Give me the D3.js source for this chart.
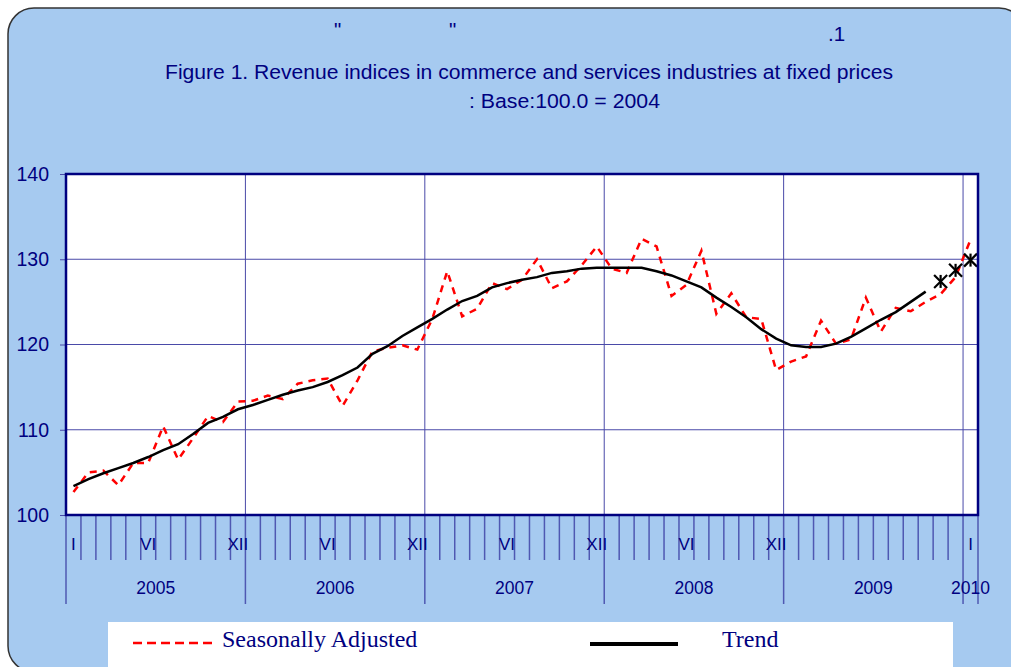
<!DOCTYPE html>
<html>
<head>
<meta charset="utf-8">
<script src="https://cdn.jsdelivr.net/npm/d3@7"></script>
<style>
  body { margin: 0; background: #fff; }
  svg { display: block; }
</style>
</head>
<body>
<div id="chart"></div>
<script>
// monthly data, Jan 2005 .. Jan 2010
const years = [2005, 2006, 2007, 2008, 2009, 2010];
// month index -> label shown under the axis
const monthTickIndex = [0, 5, 11, 17, 23, 29, 35, 41, 47, 60];
const monthTickLabels = ["I", "VI", "XII", "VI", "XII", "VI", "XII", "VI", "XII", "I"];

const seasonallyAdjusted = [
  102.7, 105.0, 105.2, 103.5, 106.1, 106.1, 110.4, 106.5, 109.0, 111.6, 110.9, 113.3,
  113.4, 114.0, 113.6, 115.4, 115.8, 116.0, 112.8, 115.8, 119.2, 119.6, 119.9, 119.4,
  123.0, 128.6, 123.3, 124.2, 127.2, 126.5, 127.6, 130.0, 126.6, 127.4, 129.3, 131.5,
  128.9, 128.4, 132.4, 131.5, 125.7, 127.0, 131.0, 123.6, 126.0, 123.2, 123.0, 117.0,
  118.0, 118.6, 122.8, 120.1, 120.6, 125.5, 121.5, 124.3, 123.9, 125.0, 125.9, 127.9,
  132.3
];

const trend = [
  103.4, 104.2, 104.9, 105.5, 106.1, 106.8, 107.6, 108.3, 109.5, 110.8, 111.5, 112.4,
  112.9, 113.5, 114.1, 114.6, 115.0, 115.6, 116.4, 117.3, 118.9, 119.8, 121.0, 122.0,
  123.0, 124.1, 125.1, 125.7, 126.7, 127.2, 127.6, 127.9, 128.4, 128.6, 128.9, 129.0,
  129.0, 129.0, 129.0, 128.6, 128.1, 127.4, 126.7, 125.5, 124.4, 123.2, 121.8, 120.7,
  119.9, 119.7, 119.7, 120.1, 120.9, 121.9, 122.9, 123.8, 125.0, 126.2
];

// last three trend points drawn as star markers (Nov 2009 .. Jan 2010)
const trendEstimate = [127.4, 128.7, 129.9];

const yTicks = [100, 110, 120, 130, 140];

const W = 1011, H = 667;
const margin = { top: 174, right: 33, bottom: 152, left: 66 };
const width = W - margin.left - margin.right,
      height = H - margin.top - margin.bottom;

const sans = "'Liberation Sans', Arial, sans-serif";
const serif = "'Liberation Serif', 'Times New Roman', serif";
const navy = "#000080";

const svg = d3.select("#chart").append("svg")
  .attr("width", W)
  .attr("height", H)
  .style("font-family", sans);

// background panel
svg.append("rect")
  .attr("x", 8).attr("y", 8)
  .attr("width", 1017).attr("height", 664)
  .attr("rx", 26)
  .attr("fill", "#a6caf0")
  .attr("stroke", "#333")
  .attr("stroke-width", 1.5);

// titles
const title = svg.append("g").attr("fill", navy).attr("font-size", 20.5);
title.append("text").attr("x", 334).attr("y", 37).text('"');
title.append("text").attr("x", 449).attr("y", 37).text('"');
title.append("text").attr("x", 828).attr("y", 41).text(".1");

title.append("text")
  .attr("x", 165).attr("y", 79)
  .attr("textLength", 728)
  .attr("lengthAdjust", "spacingAndGlyphs")
  .text("Figure 1. Revenue indices in commerce and services industries at fixed prices");

title.append("text")
  .attr("x", 469).attr("y", 108)
  .attr("textLength", 191)
  .attr("lengthAdjust", "spacingAndGlyphs")
  .text(": Base:100.0 = 2004");

const months = d3.range(seasonallyAdjusted.length);

const x = d3.scaleBand()
  .domain(months)
  .range([margin.left, margin.left + width])
  .padding(0);

const cx = i => x(i) + x.bandwidth() / 2;
const edge = i => margin.left + i * x.bandwidth();

const y = d3.scaleLinear()
  .domain([100, 140])
  .range([margin.top + height, margin.top]);

// plot area
svg.append("rect")
  .attr("x", margin.left).attr("y", margin.top)
  .attr("width", width).attr("height", height)
  .attr("fill", "#fff");

const grid = svg.append("g").attr("stroke", "#4a4aa8").attr("stroke-width", 1);

grid.selectAll(".hgrid")
  .data(yTicks.slice(1, -1))
  .enter().append("line")
  .attr("x1", margin.left).attr("x2", margin.left + width)
  .attr("y1", d => y(d)).attr("y2", d => y(d));

grid.selectAll(".vgrid")
  .data(d3.range(12, months.length, 12))
  .enter().append("line")
  .attr("x1", d => edge(d)).attr("x2", d => edge(d))
  .attr("y1", margin.top).attr("y2", margin.top + height);

// y axis
const yAxis = svg.append("g")
  .attr("transform", "translate(" + margin.left + ",0)")
  .call(d3.axisLeft(y).tickValues(yTicks).tickSize(6).tickPadding(11));
yAxis.select(".domain").remove();
yAxis.selectAll("line").attr("stroke", "#4a4aa8");
yAxis.selectAll("text")
  .attr("font-size", 19.5)
  .attr("font-family", sans)
  .attr("fill", navy);

// x axis: month boundaries, longer at year boundaries
const base = margin.top + height;
svg.append("g")
  .attr("stroke", "#4f58b2")
  .attr("stroke-width", 1.5)
  .selectAll("line")
  .data(d3.range(months.length + 1))
  .enter().append("line")
  .attr("x1", d => edge(d)).attr("x2", d => edge(d))
  .attr("y1", base)
  .attr("y2", d => (d % 12 === 0 || d === months.length) ? 604 : 560);

svg.append("g")
  .attr("fill", navy)
  .selectAll("text")
  .data(monthTickIndex)
  .enter().append("text")
  .attr("x", d => cx(d))
  .attr("y", 550)
  .attr("text-anchor", "middle")
  .attr("font-size", 17)
  .text((d, i) => monthTickLabels[i]);

svg.append("g")
  .attr("fill", navy)
  .selectAll("text")
  .data(years)
  .enter().append("text")
  .attr("x", (d, i) => {
    const first = i * 12;
    const last = Math.min(first + 11, months.length - 1);
    return (x(first) + x(last) + x.bandwidth()) / 2;
  })
  .attr("y", 594)
  .attr("text-anchor", "middle")
  .attr("font-size", 17.5)
  .text(d => d);

// series
const line = d3.line()
  .x((d, i) => cx(i))
  .y(d => y(d));

svg.append("path")
  .datum(seasonallyAdjusted)
  .attr("fill", "none")
  .attr("stroke", "#ff0000")
  .attr("stroke-width", 2.5)
  .attr("stroke-dasharray", "7,6")
  .attr("d", line);

svg.append("path")
  .datum(trend)
  .attr("fill", "none")
  .attr("stroke", "#000")
  .attr("stroke-width", 2.5)
  .attr("d", line);

// star markers: an X with a vertical bar
svg.append("g")
  .selectAll("g")
  .data(trendEstimate)
  .enter().append("g")
  .attr("transform", (d, i) => "translate(" + cx(trend.length + i) + "," + y(d) + ")")
  .each(function () {
    const g = d3.select(this);
    const r = 6.5;
    [[-r, -r, r, r], [-r, r, r, -r], [0, -r, 0, r]].forEach(p => {
      g.append("line")
        .attr("x1", p[0]).attr("y1", p[1])
        .attr("x2", p[2]).attr("y2", p[3])
        .attr("stroke", "#000")
        .attr("stroke-width", 2.2);
    });
  });

// plot border
svg.append("rect")
  .attr("x", margin.left).attr("y", margin.top)
  .attr("width", width).attr("height", height)
  .attr("fill", "none")
  .attr("stroke", navy)
  .attr("stroke-width", 2.5);

// legend
svg.append("rect")
  .attr("x", 108).attr("y", 622)
  .attr("width", 845).attr("height", 50)
  .attr("fill", "#fff");

svg.append("line")
  .attr("x1", 133).attr("x2", 212)
  .attr("y1", 643).attr("y2", 643)
  .attr("stroke", "#ff0000")
  .attr("stroke-width", 2.5)
  .attr("stroke-dasharray", "9,5");

svg.append("text")
  .attr("x", 222).attr("y", 647)
  .attr("font-family", serif)
  .attr("font-size", 24)
  .attr("fill", navy)
  .text("Seasonally Adjusted");

svg.append("line")
  .attr("x1", 590).attr("x2", 678)
  .attr("y1", 644).attr("y2", 644)
  .attr("stroke", "#000")
  .attr("stroke-width", 4);

svg.append("text")
  .attr("x", 722).attr("y", 647)
  .attr("font-family", serif)
  .attr("font-size", 24)
  .attr("fill", navy)
  .text("Trend");
</script>
</body>
</html>
